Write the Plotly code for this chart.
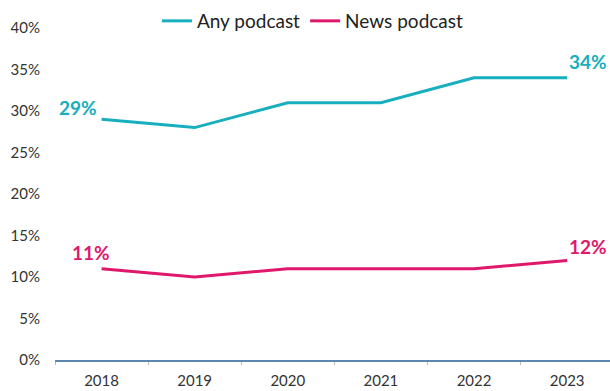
import plotly.graph_objects as go

years = ["2018", "2019", "2020", "2021", "2022", "2023"]
any_podcast = [29, 28, 31, 31, 34, 34]
news_podcast = [11, 10, 11, 11, 11, 12]
y_ticks = [0, 5, 10, 15, 20, 25, 30, 35, 40]
y_tick_labels = [f"{v}%" for v in y_ticks]

TEAL = "#17AEBE"
PINK = "#E0186C"
FONT = "Lato, Open Sans, sans-serif"

fig = go.Figure()
fig.add_trace(go.Scatter(x=years, y=any_podcast, mode="lines", name="Any podcast",
                         line=dict(color=TEAL, width=3)))
fig.add_trace(go.Scatter(x=years, y=news_podcast, mode="lines", name="News podcast",
                         line=dict(color=PINK, width=3)))

def lab(idx, vals, color, xs, ys):
    fig.add_annotation(x=idx, y=vals[idx], xref="x", yref="y", text=f"<b>{vals[idx]}%</b>",
                       showarrow=False, font=dict(family=FONT, size=19, color=color),
                       xshift=xs, yshift=ys)

last = len(years) - 1
lab(0, any_podcast, TEAL, -24, 12)
lab(last, any_podcast, TEAL, 21, 16)
lab(0, news_podcast, PINK, -11, 16)
lab(last, news_podcast, PINK, 21, 14)

fig.update_layout(
    width=610, height=391,
    margin=dict(l=55, r=0, t=28, b=31, autoexpand=False),
    paper_bgcolor="white", plot_bgcolor="white",
    font=dict(family=FONT, size=15, color="#333333"),
    showlegend=True,
    legend=dict(orientation="h", xref="container", x=0.513, xanchor="center",
                yref="container", y=1 - 21 / 391, yanchor="middle",
                font=dict(size=19, color="#222222"), bgcolor="rgba(0,0,0,0)",
                itemwidth=30, tracegroupgap=0),
    xaxis=dict(type="category", showgrid=False, showline=True, linecolor="#5A86B0", linewidth=2,
               ticks="outside", tickson="boundaries", ticklen=3, tickcolor="#BBBBBB",
               ticklabelstandoff=6,
               tickfont=dict(size=15, color="#333333"), range=[-0.5, 5.46]),
    yaxis=dict(range=[0, 40], tickvals=y_ticks, ticktext=y_tick_labels, showgrid=False,
               zeroline=False, showline=False, ticks="", ticklabelstandoff=14,
               tickfont=dict(size=15, color="#333333")),
)

fig.write_html("out.html", config={"displayModeBar": False},
               post_script="document.body.style.margin='0';")
